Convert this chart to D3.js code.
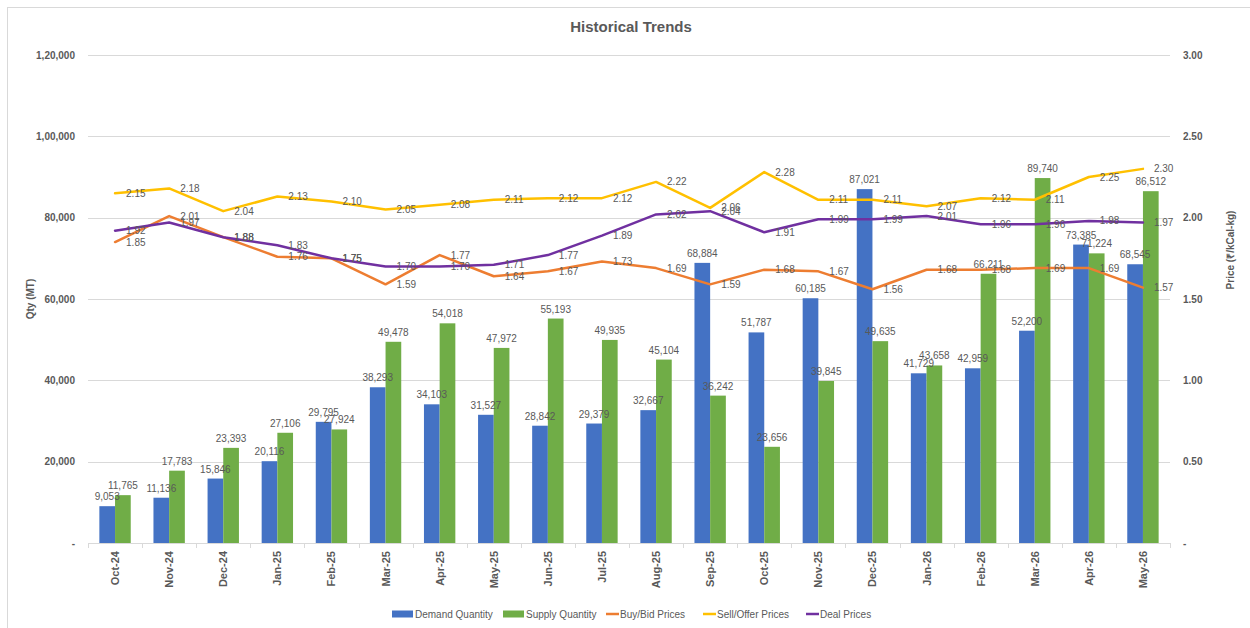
<!DOCTYPE html>
<html>
<head>
<meta charset="utf-8">
<script src="https://cdn.jsdelivr.net/npm/d3@7"></script>
<style>
  body { margin: 0; background: #fff; }
  svg { display: block; font-family: "Liberation Sans", Arial, sans-serif; }
</style>
</head>
<body>
<svg id="chart" width="1250" height="628"></svg>
<script>
const categories = ["Oct-24","Nov-24","Dec-24","Jan-25","Feb-25","Mar-25","Apr-25","May-25","Jun-25","Jul-25","Aug-25","Sep-25","Oct-25","Nov-25","Dec-25","Jan-26","Feb-26","Mar-26","Apr-26","May-26"];
const demandQty = [9053,11136,15846,20116,29795,38293,34103,31527,28842,29379,32667,68884,51787,60185,87021,41729,42959,52200,73385,68545];
const supplyQty = [11765,17783,23393,27106,27924,49478,54018,47972,55193,49935,45104,36242,23656,39845,49635,43658,66211,89740,71224,86512];
const buyPrices = [1.85,2.01,1.88,1.76,1.75,1.59,1.77,1.64,1.67,1.73,1.69,1.59,1.68,1.67,1.56,1.68,1.68,1.69,1.69,1.57];
const sellPrices = [2.15,2.18,2.04,2.13,2.10,2.05,2.08,2.11,2.12,2.12,2.22,2.06,2.28,2.11,2.11,2.07,2.12,2.11,2.25,2.30];
const dealPrices = [1.92,1.97,1.88,1.83,1.75,1.70,1.70,1.71,1.77,1.89,2.02,2.04,1.91,1.99,1.99,2.01,1.96,1.96,1.98,1.97];
const qtyTicks = [0,20000,40000,60000,80000,100000,120000];
const qtyTickLabels = ["-","20,000","40,000","60,000","80,000","1,00,000","1,20,000"];
const priceTicks = [0,0.5,1,1.5,2,2.5,3];
const priceTickLabels = ["-","0.50","1.00","1.50","2.00","2.50","3.00"];

const C = { demand:"#4472C4", supply:"#70AD47", buy:"#ED7D31", sell:"#FFC000", deal:"#7030A0", text:"#595959", grid:"#d9d9d9" };

const svg = d3.select("#chart");
const pLeft = 88, pRight = 1170, pTop = 55, pBottom = 543;

// chart border
svg.append("rect").attr("x",7.5).attr("y",7.5).attr("width",1260).attr("height",640)
  .attr("fill","none").attr("stroke","#d9d9d9").attr("stroke-width",1);

const x = d3.scaleBand().domain(categories).range([pLeft,pRight]).paddingInner(0.42).paddingOuter(0.21);
const xc = c => x(c) + x.bandwidth()/2;
const bx = d3.scaleBand().domain(["d","s"]).range([0,x.bandwidth()]);
const yQ = d3.scaleLinear().domain([0,120000]).range([pBottom,pTop]);
const yP = d3.scaleLinear().domain([0,3]).range([pBottom,pTop]);

// gridlines
svg.append("g").selectAll("line").data(qtyTicks.filter(d=>d>0)).join("line")
  .attr("x1",pLeft).attr("x2",pRight).attr("y1",d=>Math.round(yQ(d))+0.5).attr("y2",d=>Math.round(yQ(d))+0.5)
  .attr("stroke",C.grid).attr("stroke-width",1);

// left axis
const yAxisL = d3.axisLeft(yQ).tickValues(qtyTicks).tickSize(0).tickPadding(13)
  .tickFormat((d,i)=>qtyTickLabels[i]);
const gL = svg.append("g").attr("transform",`translate(${pLeft},0)`).call(yAxisL);
gL.select(".domain").remove();
gL.selectAll("text").attr("fill",C.text).attr("font-size","10px").attr("font-weight","bold").attr("font-family",null);

// right axis
const yAxisR = d3.axisRight(yP).tickValues(priceTicks).tickSize(0).tickPadding(13)
  .tickFormat((d,i)=>priceTickLabels[i]);
const gR = svg.append("g").attr("transform",`translate(${pRight},0)`).call(yAxisR);
gR.select(".domain").remove();
gR.selectAll("text").attr("fill",C.text).attr("font-size","10px").attr("font-weight","bold").attr("font-family",null);

// bars
const barG = svg.append("g");
categories.forEach((c,i)=>{
  [["d",demandQty[i],C.demand],["s",supplyQty[i],C.supply]].forEach(([k,v,col])=>{
    barG.append("rect").attr("x",x(c)+bx(k)).attr("y",yQ(v))
      .attr("width",bx.bandwidth()).attr("height",yQ(0)-yQ(v)).attr("fill",col);
  });
});

// x axis
const step = x.step();
const gX = svg.append("g");
gX.append("line").attr("x1",pLeft).attr("x2",pRight).attr("y1",pBottom+0.5).attr("y2",pBottom+0.5)
  .attr("stroke",C.grid).attr("stroke-width",1);
d3.range(categories.length+1).forEach(i=>{
  const xx = Math.round(pLeft + i*step)+0.5;
  gX.append("line").attr("x1",xx).attr("x2",xx).attr("y1",pBottom).attr("y2",pBottom+5)
    .attr("stroke",C.grid);
});
gX.selectAll("text.cat").data(categories).join("text").attr("class","cat")
  .attr("transform",d=>`translate(${xc(d)+4},${pBottom+8}) rotate(-90)`)
  .attr("text-anchor","end").attr("fill",C.text).attr("font-size","11px").attr("font-weight","bold")
  .text(d=>d);

// lines
const series = [
  {vals:buyPrices,col:C.buy},
  {vals:sellPrices,col:C.sell},
  {vals:dealPrices,col:C.deal}
];
const line = d3.line().x((d,i)=>xc(categories[i])).y(d=>yP(d));
series.forEach(s=>{
  svg.append("path").datum(s.vals).attr("d",line).attr("fill","none")
    .attr("stroke",s.col).attr("stroke-width",2.5).attr("stroke-linejoin","round").attr("stroke-linecap","round");
});

// bar labels
const fmt = d3.format(",");
categories.forEach((c,i)=>{
  [["d",demandQty[i]],["s",supplyQty[i]]].forEach(([k,v])=>{
    svg.append("text").attr("x",x(c)+bx(k)+bx.bandwidth()/2).attr("y",yQ(v)-6)
      .attr("text-anchor","middle").attr("fill",C.text).attr("font-size","10px").text(fmt(v));
  });
});

// line labels
series.forEach(s=>{
  s.vals.forEach((v,i)=>{
    svg.append("text").attr("x",xc(categories[i])+11).attr("y",yP(v)).attr("dy","0.35em")
      .attr("fill",C.text).attr("font-size","10px").text(v.toFixed(2));
  });
});

// title
svg.append("text").attr("x",631).attr("y",32).attr("text-anchor","middle")
  .attr("fill",C.text).attr("font-size","15px").attr("font-weight","bold").text("Historical Trends");

// axis titles
svg.append("text").attr("transform","translate(34,299) rotate(-90)").attr("text-anchor","middle")
  .attr("fill",C.text).attr("font-size","10px").attr("font-weight","bold").text("Qty (MT)");
svg.append("text").attr("transform","translate(1234,250) rotate(-90)").attr("text-anchor","middle")
  .attr("fill",C.text).attr("font-size","10px").attr("font-weight","bold").text("Price (₹/kCal-kg)");

// legend
const legend = [
  {label:"Demand Quantity",col:C.demand,type:"rect",x:392},
  {label:"Supply Quantity",col:C.supply,type:"rect",x:503},
  {label:"Buy/Bid Prices",col:C.buy,type:"line",x:606},
  {label:"Sell/Offer Prices",col:C.sell,type:"line",x:703},
  {label:"Deal Prices",col:C.deal,type:"line",x:806}
];
const ly = 614;
legend.forEach(l=>{
  if(l.type==="rect"){
    svg.append("rect").attr("x",l.x).attr("y",ly-3.5).attr("width",21).attr("height",7).attr("fill",l.col);
    svg.append("text").attr("x",l.x+23).attr("y",ly).attr("dy","0.35em").attr("fill",C.text)
      .attr("font-size","10px").text(l.label);
  } else {
    svg.append("line").attr("x1",l.x).attr("x2",l.x+13).attr("y1",ly).attr("y2",ly)
      .attr("stroke",l.col).attr("stroke-width",2.5);
    svg.append("text").attr("x",l.x+14).attr("y",ly).attr("dy","0.35em").attr("fill",C.text)
      .attr("font-size","10px").text(l.label);
  }
});
</script>
</body>
</html>
